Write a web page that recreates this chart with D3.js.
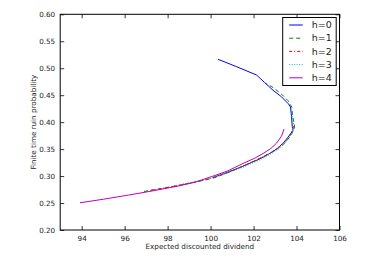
<!DOCTYPE html>
<html><head><meta charset="utf-8">
<script src="https://cdn.jsdelivr.net/npm/d3@7"></script>
<style>body{margin:0;background:#fff}svg{display:block}text{font-family:"DejaVu Sans",sans-serif}</style>
</head><body><svg id="c" width="367" height="269"></svg>
<script>
const seriesNames = ["h=0","h=1","h=2","h=3","h=4"];
const colors = ["#0000ff","#008000","#ff0000","#00bfbf","#bf00bf"];
const dashes = [null,"4,3","3,2,1,2","1,1.5",null];
const xTicks = [94,96,98,100,102,104,106];
const yTicks = [0.20,0.25,0.30,0.35,0.40,0.45,0.50,0.55,0.60];
const h0 = [[100.12,0.2976],[100.6,0.304],[101.05,0.311],[101.5,0.318],[101.83,0.324],[102.3,0.332],[102.76,0.342],[103.1,0.351],[103.38,0.361],[103.6,0.372],[103.84,0.385],[103.8,0.392],[103.77,0.41],[103.72,0.428],[103.62,0.434],[103.3,0.447],[102.91,0.459],[102.5,0.474],[102.14,0.4874],[101.2,0.503],[100.35,0.5165]];
const h1 = [[96.9,0.2715],[97.5,0.2755],[98.2,0.2805],[99,0.2865],[99.6,0.2915],[100.2,0.297],[101,0.3095],[101.8,0.3235],[102.5,0.337],[103.0,0.3475],[103.4,0.359],[103.7,0.373],[103.9,0.388],[103.9,0.397],[103.82,0.41],[103.78,0.428],[103.6,0.44],[103.3,0.452],[102.95,0.463],[102.6,0.472]];
const h2 = [[97.2,0.2735],[98,0.279],[99,0.2865],[100,0.2955],[101,0.31],[102,0.327],[102.8,0.343],[103.3,0.357],[103.65,0.372],[103.85,0.388],[103.85,0.40]];
const h3 = [[98.6,0.2845],[99.5,0.291],[100.5,0.302],[101.5,0.316],[102.4,0.332],[103.1,0.348],[103.5,0.362],[103.75,0.377],[103.85,0.392],[103.8,0.41],[103.75,0.425]];
const h4 = [[93.92,0.2505],[95,0.257],[96.17,0.2647],[97.3,0.2725],[98.49,0.2814],[99.3,0.289],[100.12,0.300],[100.8,0.3095],[101.52,0.3236],[102.05,0.333],[102.45,0.342],[102.8,0.351],[103.07,0.361],[103.3,0.374],[103.42,0.3872]];
const allSeries = [h0,h1,h2,h3,h4];

const L=60.2,R=339.5,T=14.3,B=230;
const x=d3.scaleLinear().domain([93,106]).range([L,R]);
const y=d3.scaleLinear().domain([0.2,0.6]).range([B,T]);
const svg=d3.select("#c");
const fs=7.2;

const line=d3.line().x(d=>x(d[0])).y(d=>y(d[1]));
allSeries.forEach((s,i)=>{
  svg.append("path").datum(s).attr("d",line).attr("fill","none")
    .attr("stroke",colors[i]).attr("stroke-width",1)
    .attr("stroke-dasharray",dashes[i]);
});

// axes
const tl=4;
const gx=svg.append("g").attr("transform",`translate(0,${B})`)
  .call(d3.axisBottom(x).tickValues(xTicks).tickSizeInner(-tl).tickSizeOuter(0).tickPadding(6).tickFormat(d3.format("d")));
const gxt=svg.append("g").attr("transform",`translate(0,${T})`)
  .call(d3.axisTop(x).tickValues(xTicks).tickSizeInner(-tl).tickSizeOuter(0).tickFormat(""));
const gy=svg.append("g").attr("transform",`translate(${L},0)`)
  .call(d3.axisLeft(y).tickValues(yTicks).tickSizeInner(-tl).tickSizeOuter(0).tickPadding(5).tickFormat(d3.format(".2f")));
const gyr=svg.append("g").attr("transform",`translate(${R},0)`)
  .call(d3.axisRight(y).tickValues(yTicks).tickSizeInner(-tl).tickSizeOuter(0).tickFormat(""));
[gx,gxt,gy,gyr].forEach(g=>{
  g.select(".domain").remove();
  g.selectAll("line").attr("stroke","#000").attr("stroke-width",0.8);
  g.selectAll("text").attr("font-size",fs).attr("fill","#222").attr("font-family","DejaVu Sans");
});
svg.append("rect").attr("x",L).attr("y",T).attr("width",R-L).attr("height",B-T)
  .attr("fill","none").attr("stroke","#000").attr("stroke-width",1);

svg.append("text").attr("x",(L+R)/2).attr("y",249).attr("text-anchor","middle")
  .attr("font-size",fs).attr("fill","#222").text("Expected discounted dividend");
svg.append("text").attr("transform",`translate(36,${(T+B)/2}) rotate(-90)`).attr("text-anchor","middle")
  .attr("font-size",fs).attr("fill","#222").text("Finite time ruin probability");

// legend
const lx=282.7, ly=17.5, lw=53.5, lh=68;
svg.append("rect").attr("x",lx).attr("y",ly).attr("width",lw).attr("height",lh)
  .attr("fill","#fff").attr("stroke","#000").attr("stroke-width",1);
seriesNames.forEach((n,i)=>{
  const yy=ly+7.5+i*13.2;
  svg.append("line").attr("x1",lx+6.5).attr("x2",lx+20).attr("y1",yy).attr("y2",yy)
    .attr("stroke",colors[i]).attr("stroke-width",1).attr("stroke-dasharray",dashes[i]);
  svg.append("text").attr("x",lx+29).attr("y",yy+3.2).attr("font-size",9.5).attr("fill","#222").text(n);
});
</script></body></html>
